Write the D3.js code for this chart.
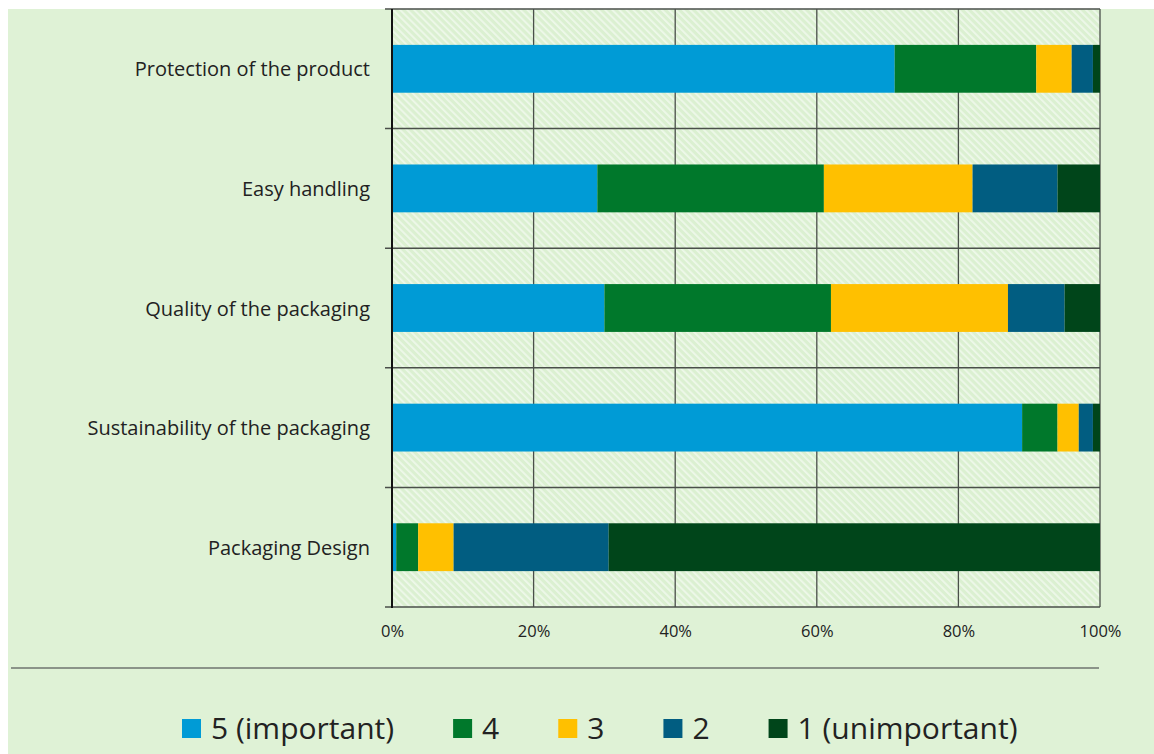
<!DOCTYPE html>
<html>
<head>
<meta charset="utf-8">
<script src="https://cdn.jsdelivr.net/npm/d3@7"></script>
<style>
  html, body { margin: 0; padding: 0; background: #ffffff; }
  svg { display: block; }
  text { font-family: "Open Sans", "Noto Sans", sans-serif; fill: #222; }
</style>
</head>
<body>
<svg id="chart" width="1154" height="754"></svg>
<script>
const categories = [
  "Protection of the product",
  "Easy handling",
  "Quality of the packaging",
  "Sustainability of the packaging",
  "Packaging Design"
];
const seriesNames = ["5 (important)", "4", "3", "2", "1 (unimportant)"];
const seriesColors = ["#009bd6", "#00782b", "#ffc000", "#015d81", "#00451a"];
const v5 = [71, 29, 30, 89, 0.6];
const v4 = [20, 32, 32, 5, 3.1];
const v3 = [5, 21, 25, 3, 5.0];
const v2 = [3, 12, 8, 2, 21.9];
const v1 = [1, 6, 5, 1, 69.4];
const xTicks = [0, 0.2, 0.4, 0.6, 0.8, 1.0];

const rows = categories.map((c, i) => {
  const tot = v5[i] + v4[i] + v3[i] + v2[i] + v1[i];
  return { cat: c, "5 (important)": v5[i] / tot, "4": v4[i] / tot, "3": v3[i] / tot, "2": v2[i] / tot, "1 (unimportant)": v1[i] / tot };
});

const svg = d3.select("#chart");
const W = 1154, H = 754;

// background
svg.append("rect").attr("x", 8).attr("y", 9).attr("width", W - 8).attr("height", H - 9).attr("fill", "#dff2d6");

const margin = { left: 392, right: 1100, top: 9, bottom: 607 };

const defs = svg.append("defs");
const pat = defs.append("pattern").attr("id", "hatch").attr("patternUnits", "userSpaceOnUse")
  .attr("width", 5).attr("height", 5).attr("patternTransform", "rotate(-45)");
pat.append("rect").attr("width", 5).attr("height", 5).attr("fill", "#dbf0d1");
pat.append("rect").attr("x", 0).attr("y", 0).attr("width", 1.8).attr("height", 5).attr("fill", "#eef8ea");

const x = d3.scaleLinear().domain([0, 1]).range([margin.left, margin.right]);
const y = d3.scaleBand().domain(categories).range([margin.top, margin.bottom]).paddingInner(0.6).paddingOuter(0.3);

// plot background
svg.append("rect").attr("x", margin.left).attr("y", margin.top)
  .attr("width", margin.right - margin.left).attr("height", margin.bottom - margin.top)
  .attr("fill", "url(#hatch)");

// vertical gridlines
svg.append("g").selectAll("line").data(xTicks.slice(1)).join("line")
  .attr("x1", d => x(d)).attr("x2", d => x(d))
  .attr("y1", margin.top).attr("y2", margin.bottom)
  .attr("stroke", "#4a4f4a").attr("stroke-width", 1.3);

// horizontal band boundaries (category gridlines)
const step = y.step();
const bounds = d3.range(categories.length + 1).map(i => margin.top + i * step);
svg.append("g").selectAll("line").data(bounds).join("line")
  .attr("x1", margin.left - 7).attr("x2", margin.right)
  .attr("y1", d => d).attr("y2", d => d)
  .attr("stroke", "#4a4f4a").attr("stroke-width", 1.5);

// stacked bars
const stack = d3.stack().keys(seriesNames)(rows);
svg.append("g").selectAll("g").data(stack).join("g")
  .attr("fill", (d, i) => seriesColors[i])
  .selectAll("rect").data(d => d).join("rect")
  .attr("x", d => x(d[0]))
  .attr("width", d => x(d[1]) - x(d[0]))
  .attr("y", d => y(d.data.cat))
  .attr("height", y.bandwidth());

// left axis line
svg.append("line").attr("x1", margin.left).attr("x2", margin.left)
  .attr("y1", margin.top).attr("y2", margin.bottom + 1)
  .attr("stroke", "#111").attr("stroke-width", 2);

// category labels
svg.append("g").selectAll("text").data(categories).join("text")
  .attr("x", 370).attr("y", d => y(d) + y.bandwidth() / 2)
  .attr("text-anchor", "end").attr("dominant-baseline", "central")
  .attr("font-size", 20).text(d => d);

// x axis tick labels
const xAxis = d3.axisBottom(x).tickValues(xTicks).tickFormat(d3.format(".0%")).tickSize(0).tickPadding(18);
const gx = svg.append("g").attr("transform", `translate(0,${margin.bottom})`).call(xAxis);
gx.select(".domain").remove();
gx.selectAll("text").attr("font-size", 16.5).attr("fill", "#333").style("font-family", '"Open Sans", sans-serif');

// separator line
svg.append("line").attr("x1", 11).attr("x2", 1099).attr("y1", 668).attr("y2", 668)
  .attr("stroke", "#6f746f").attr("stroke-width", 1.5);

// legend
const lg = svg.append("g");
let lx = 182;
seriesNames.forEach((s, i) => {
  lg.append("rect").attr("x", lx).attr("y", 719).attr("width", 19).attr("height", 19).attr("fill", seriesColors[i]);
  const t = lg.append("text").attr("x", lx + 29).attr("y", 739).attr("font-size", 30).attr("fill", "#111").text(s);
  lx = lx + 29 + t.node().getComputedTextLength() + 59;
});
</script>
</body>
</html>
